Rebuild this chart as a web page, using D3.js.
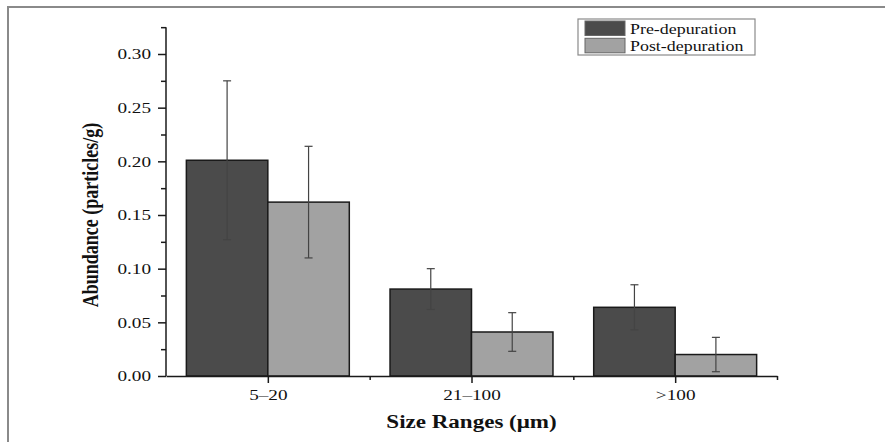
<!DOCTYPE html>
<html>
<head>
<meta charset="utf-8">
<script src="https://cdn.jsdelivr.net/npm/d3@7"></script>
<style>
  body { margin: 0; background: #fff; }
  svg text { font-family: "Liberation Serif", "Times New Roman", serif; fill: #111; }
</style>
</head>
<body>
<div id="container"></div>
<script>
var categories = ['5\u201320', '21\u2013100', '>100'],
    preValues = [0.201, 0.081, 0.064],
    preErrors = [0.074, 0.019, 0.021],
    postValues = [0.162, 0.041, 0.020],
    postErrors = [0.052, 0.018, 0.016],
    yTicks = [0, 0.05, 0.10, 0.15, 0.20, 0.25, 0.30],
    yMinorTicks = [0.025, 0.075, 0.125, 0.175, 0.225, 0.275, 0.325],
    seriesNames = ['Pre-depuration', 'Post-depuration'];

var width = 885,
    height = 442,
    stretch = 1.28,   // the picture is stretched sideways
    preColor = '#4b4b4b',
    postColor = '#a2a2a2';

var svg = d3.select('#container')
    .append('svg')
    .attr('width', width)
    .attr('height', height);

// frame (top and left only)
svg.append('path')
    .attr('d', 'M8,442 V7 H885')
    .attr('fill', 'none')
    .attr('stroke', '#8a8a8a')
    .attr('stroke-width', 2);

var scaleX = d3.scaleLinear()
    .domain([0.5, 3.5])
    .range([166, 777]);

var scaleY = d3.scaleLinear()
    .domain([0, 0.30])
    .range([376, 54]);

var barW = 0.4;

// bars
var groups = svg.selectAll('g.grp')
    .data(categories)
    .enter()
    .append('g')
    .attr('class', 'grp');

groups.append('rect')
    .attr('x', function(d, i) { return scaleX(i + 1 - barW); })
    .attr('y', function(d, i) { return scaleY(preValues[i]); })
    .attr('width', function(d, i) { return scaleX(i + 1) - scaleX(i + 1 - barW); })
    .attr('height', function(d, i) { return scaleY(0) - scaleY(preValues[i]); })
    .attr('fill', preColor)
    .attr('stroke', '#1a1a1a')
    .attr('stroke-width', 1.5);

groups.append('rect')
    .attr('x', function(d, i) { return scaleX(i + 1); })
    .attr('y', function(d, i) { return scaleY(postValues[i]); })
    .attr('width', function(d, i) { return scaleX(i + 1 + barW) - scaleX(i + 1); })
    .attr('height', function(d, i) { return scaleY(0) - scaleY(postValues[i]); })
    .attr('fill', postColor)
    .attr('stroke', '#1a1a1a')
    .attr('stroke-width', 1.5);

// error bars
function errorBar(sel, values, errors, offset) {
    sel.each(function(d, i) {
        var g = d3.select(this),
            cx = scaleX(i + 1 + offset),
            top = scaleY(values[i] + errors[i]),
            bot = scaleY(values[i] - errors[i]);
        g.append('line')
            .attr('x1', cx).attr('x2', cx)
            .attr('y1', top).attr('y2', bot)
            .attr('stroke', '#444').attr('stroke-width', 1.2);
        [top, bot].forEach(function(yy) {
            g.append('line')
                .attr('x1', cx - 4).attr('x2', cx + 4)
                .attr('y1', yy).attr('y2', yy)
                .attr('stroke', '#444').attr('stroke-width', 1.2);
        });
    });
}
errorBar(groups, preValues, preErrors, -barW / 2);
errorBar(groups, postValues, postErrors, barW / 2);

// y axis
var yAxis = svg.append('g')
    .attr('transform', 'translate(166,0)')
    .call(d3.axisLeft(scaleY).tickValues(yTicks).tickSize(8).tickSizeOuter(0)
        .tickFormat(d3.format('.2f')));
yAxis.select('.domain').attr('d', 'M0,' + scaleY(0) + 'V' + scaleY(0.325));
yAxis.selectAll('text')
    .attr('x', -15 / stretch)
    .attr('transform', 'scale(' + stretch + ',1)')
    .style('font-size', '15px');
svg.append('g')
    .attr('transform', 'translate(166,0)')
    .call(d3.axisLeft(scaleY).tickValues(yMinorTicks).tickSize(5).tickFormat(''))
    .select('.domain').remove();

// x axis
var xAxis = svg.append('g')
    .attr('transform', 'translate(0,376)')
    .call(d3.axisBottom(scaleX).tickValues([1, 2, 3]).tickSize(7).tickSizeOuter(0)
        .tickFormat(function(d) { return categories[d - 1]; }));
xAxis.selectAll('text')
    .attr('y', 24)
    .attr('dy', 0)
    .attr('transform', 'scale(' + stretch + ',1)')
    .style('font-size', '15px');
svg.append('g')
    .attr('transform', 'translate(0,376)')
    .call(d3.axisBottom(scaleX).tickValues([1.5, 2.5, 3.5]).tickSize(4).tickFormat(''))
    .select('.domain').remove();

svg.selectAll('.domain, .tick line')
    .attr('stroke', '#1a1a1a')
    .attr('stroke-width', 1.5);

// axis titles
svg.append('text')
    .attr('transform', 'translate(98,215) scale(' + stretch + ',1) rotate(-90)')
    .attr('text-anchor', 'middle')
    .style('font-size', '18px')
    .style('font-weight', 'bold')
    .text('Abundance (particles/g)');

svg.append('text')
    .attr('transform', 'translate(' + scaleX(2) + ',428) scale(' + stretch + ',1)')
    .attr('text-anchor', 'middle')
    .style('font-size', '18px')
    .style('font-weight', 'bold')
    .text('Size Ranges (\u03bcm)');

// legend
var legend = svg.append('g').attr('transform', 'translate(578,19)');
legend.append('rect')
    .attr('width', 177).attr('height', 36)
    .attr('fill', '#fff')
    .attr('stroke', '#8a8a8a')
    .attr('stroke-width', 1.2);
seriesNames.forEach(function(name, i) {
    legend.append('rect')
        .attr('x', 7).attr('y', 2 + i * 17.3)
        .attr('width', 40).attr('height', 14.5)
        .attr('fill', i === 0 ? preColor : postColor)
        .attr('stroke', '#666')
        .attr('stroke-width', 1);
    legend.append('text')
        .attr('transform', 'translate(52,' + (14.5 + i * 17.3) + ') scale(' + stretch + ',1)')
        .style('font-size', '14px')
        .text(name);
});
</script>
</body>
</html>
